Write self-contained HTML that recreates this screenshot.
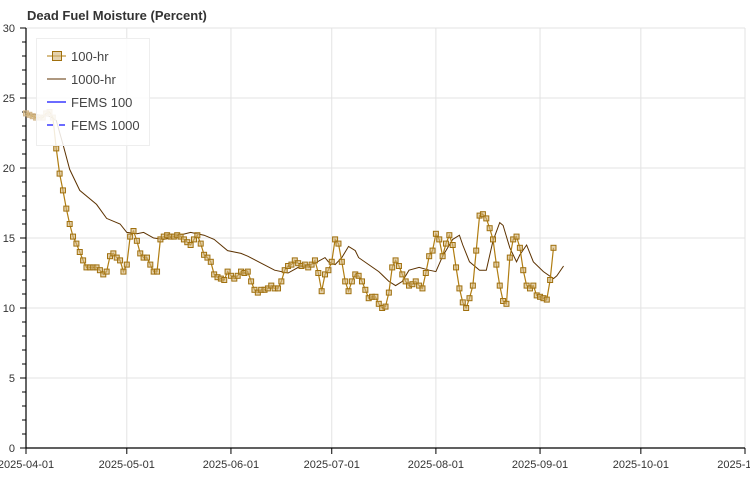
<!DOCTYPE html>
<html><head><meta charset="utf-8"><style>
body{margin:0;background:#fff;}
svg{display:block;font-family:"Liberation Sans",sans-serif;}
</style></head><body>
<svg id="chart" width="750" height="500" viewBox="0 0 750 500"></svg>
<script>
const startDate = "2025-04-01";
const hr100Values = [23.9,23.8,23.7,23.6,23.6,23.6,23.9,24.0,23.6,21.4,
19.6,18.4,17.1,16.0,15.1,14.6,14.0,13.4,12.9,12.9,
12.9,12.9,12.7,12.4,12.6,13.7,13.9,13.6,13.4,12.6,
13.1,15.1,15.5,14.8,13.9,13.6,13.6,13.1,12.6,12.6,
14.9,15.1,15.2,15.1,15.1,15.2,15.1,14.9,14.7,14.5,
14.9,15.2,14.6,13.8,13.6,13.3,12.4,12.2,12.1,12.0,
12.6,12.3,12.1,12.3,12.6,12.5,12.6,11.9,11.3,11.1,
11.3,11.3,11.4,11.6,11.4,11.4,11.9,12.7,13.0,13.1,
13.4,13.2,13.0,13.1,12.9,13.1,13.4,12.5,11.2,12.4,
12.7,13.3,14.9,14.6,13.3,11.9,11.2,11.9,12.4,12.3,
11.9,11.3,10.7,10.8,10.8,10.3,10.0,10.1,11.1,12.9,
13.4,13.0,12.4,11.9,11.6,11.7,11.9,11.6,11.4,12.5,
13.7,14.1,15.3,14.9,13.7,14.6,15.2,14.5,12.9,11.4,
10.4,10.0,10.7,11.6,14.1,16.6,16.7,16.4,15.7,14.9,
13.1,11.6,10.5,10.3,13.6,14.9,15.1,14.3,12.7,11.6,
11.4,11.6,10.9,10.8,10.7,10.6,12.0,14.3];
const hr1000Days = [0,7,9,11,13,16,21,24,28,30,33,35,38,41,44,49,53,56,60,64,66,70,74,78,81,86,89,90,92,94,96,98,99,102,105,108,110,112,114,117,120,122,124,127,129,130,132,135,137,139,141,142,144,146,147,149,151,154,157,158,160];
const hr1000Values = [23.9,23.7,23.4,21.7,19.9,18.4,17.4,16.4,16.0,15.4,15.3,15.4,15.0,14.9,15.1,15.4,15.2,14.9,14.1,13.9,13.7,13.2,12.7,12.5,12.9,13.2,13.6,13.3,13.1,13.6,14.4,14.1,13.6,13.1,12.6,11.9,11.6,11.9,12.7,12.9,12.7,12.6,13.7,14.9,15.2,14.5,13.3,12.7,12.7,14.8,16.1,15.9,14.3,13.3,13.8,14.5,13.3,12.6,12.1,12.3,13.0];
const xTickLabels = ["2025-04-01","2025-05-01","2025-06-01","2025-07-01","2025-08-01","2025-09-01","2025-10-01","2025-11-01"];
const yTickLabels = [0,5,10,15,20,25,30];

const NS="http://www.w3.org/2000/svg";
const svg=document.getElementById('chart');
const L=26,R=745,T=28,B=448;
const d0=Date.parse(startDate+"T00:00:00Z");
const dEnd=Date.parse("2025-11-01T00:00:00Z");
const dayMs=86400000;
function xDay(d){return L+(d*dayMs)/(dEnd-d0)*(R-L);}
function xDate(s){return L+(Date.parse(s+"T00:00:00Z")-d0)/(dEnd-d0)*(R-L);}
function y(v){return B-v/30*(B-T);}
function mk(tag,attrs,parent){const e=document.createElementNS(NS,tag);for(const k in attrs)e.setAttribute(k,attrs[k]);(parent||svg).appendChild(e);return e;}

// title
const title=mk('text',{x:27,y:20,'font-size':13,'font-weight':'bold',fill:'#333'});


title.textContent='Dead Fuel Moisture (Percent)';

// grid
const grid=mk('g',{});


yTickLabels.forEach(v=>{mk('line',{x1:L,x2:R,y1:y(v),y2:y(v),stroke:'#e3e3e3','stroke-width':1},grid);});
xTickLabels.forEach(s=>{const X=xDate(s);mk('line',{x1:X,x2:X,y1:T,y2:B,stroke:'#e3e3e3','stroke-width':1},grid);});

// axes
const yAxis=mk('g',{});


mk('line',{x1:L,x2:L,y1:T,y2:B,stroke:'#000','stroke-width':1.2},yAxis);
for(let v=0;v<=30;v++){const major=v%5===0;mk('line',{x1:L-(major?6:4),x2:L,y1:y(v),y2:y(v),stroke:'#000','stroke-width':1},yAxis);}
yTickLabels.forEach(v=>{const t=mk('text',{x:15,y:y(v)+4,'font-size':11,'text-anchor':'end',fill:'#333'},yAxis);


t.textContent=v;});
const xAxis=mk('g',{});


mk('line',{x1:L,x2:R,y1:B,y2:B,stroke:'#000','stroke-width':1.2},xAxis);
xTickLabels.forEach(s=>{const X=xDate(s);mk('line',{x1:X,x2:X,y1:B,y2:B+6,stroke:'#000'},xAxis);
const t=mk('text',{x:X,y:468,'font-size':11,'text-anchor':'middle',fill:'#333'},xAxis);


t.textContent=s;});

// 1000-hr line
const p1000=mk('polyline',{points:hr1000Days.map((d,i)=>xDay(d)+','+y(hr1000Values[i])).join(' '),fill:'none',stroke:'#5c3200','stroke-width':1});



// 100-hr line + markers
const p100=mk('polyline',{points:hr100Values.map((v,i)=>xDay(i)+','+y(v)).join(' '),fill:'none',stroke:'#b07d12','stroke-width':1.2});


const mg=mk('g',{});


hr100Values.forEach((v,i)=>{const r=mk('rect',{x:xDay(i)-2.5,y:y(v)-2.5,width:5,height:5,fill:'rgba(210,180,120,0.6)',stroke:i<9?'#d2b68a':'#a0700e','stroke-width':1},mg);

});

// legend
const lg=mk('g',{});


mk('rect',{x:36.5,y:38.5,width:113,height:107,fill:'rgba(255,255,255,0.85)',stroke:'#eee'},lg);
const entries=[['100-hr','#b07d12','sq',''],['1000-hr','#5c3200','line',''],['FEMS 100','#6b6bff','line',''],['FEMS 1000','#6b6bff','dash','']];
entries.forEach((e,i)=>{const yy=56+i*23;const g=mk('g',{},lg);


mk('line',{x1:47,x2:66,y1:yy,y2:yy,stroke:e[1],'stroke-width':e[0].startsWith('FEMS')?2:1,'stroke-dasharray':e[2]==='dash'?'6,6':'none'},g);
if(e[2]==='sq')mk('rect',{x:52.5,y:yy-4.5,width:9,height:9,fill:'rgba(210,180,120,0.6)',stroke:'#a0700e'},g);
const t=mk('text',{x:71,y:yy+5,'font-size':13,fill:'#444'},g);t.textContent=e[0];});
</script>
</body></html>
